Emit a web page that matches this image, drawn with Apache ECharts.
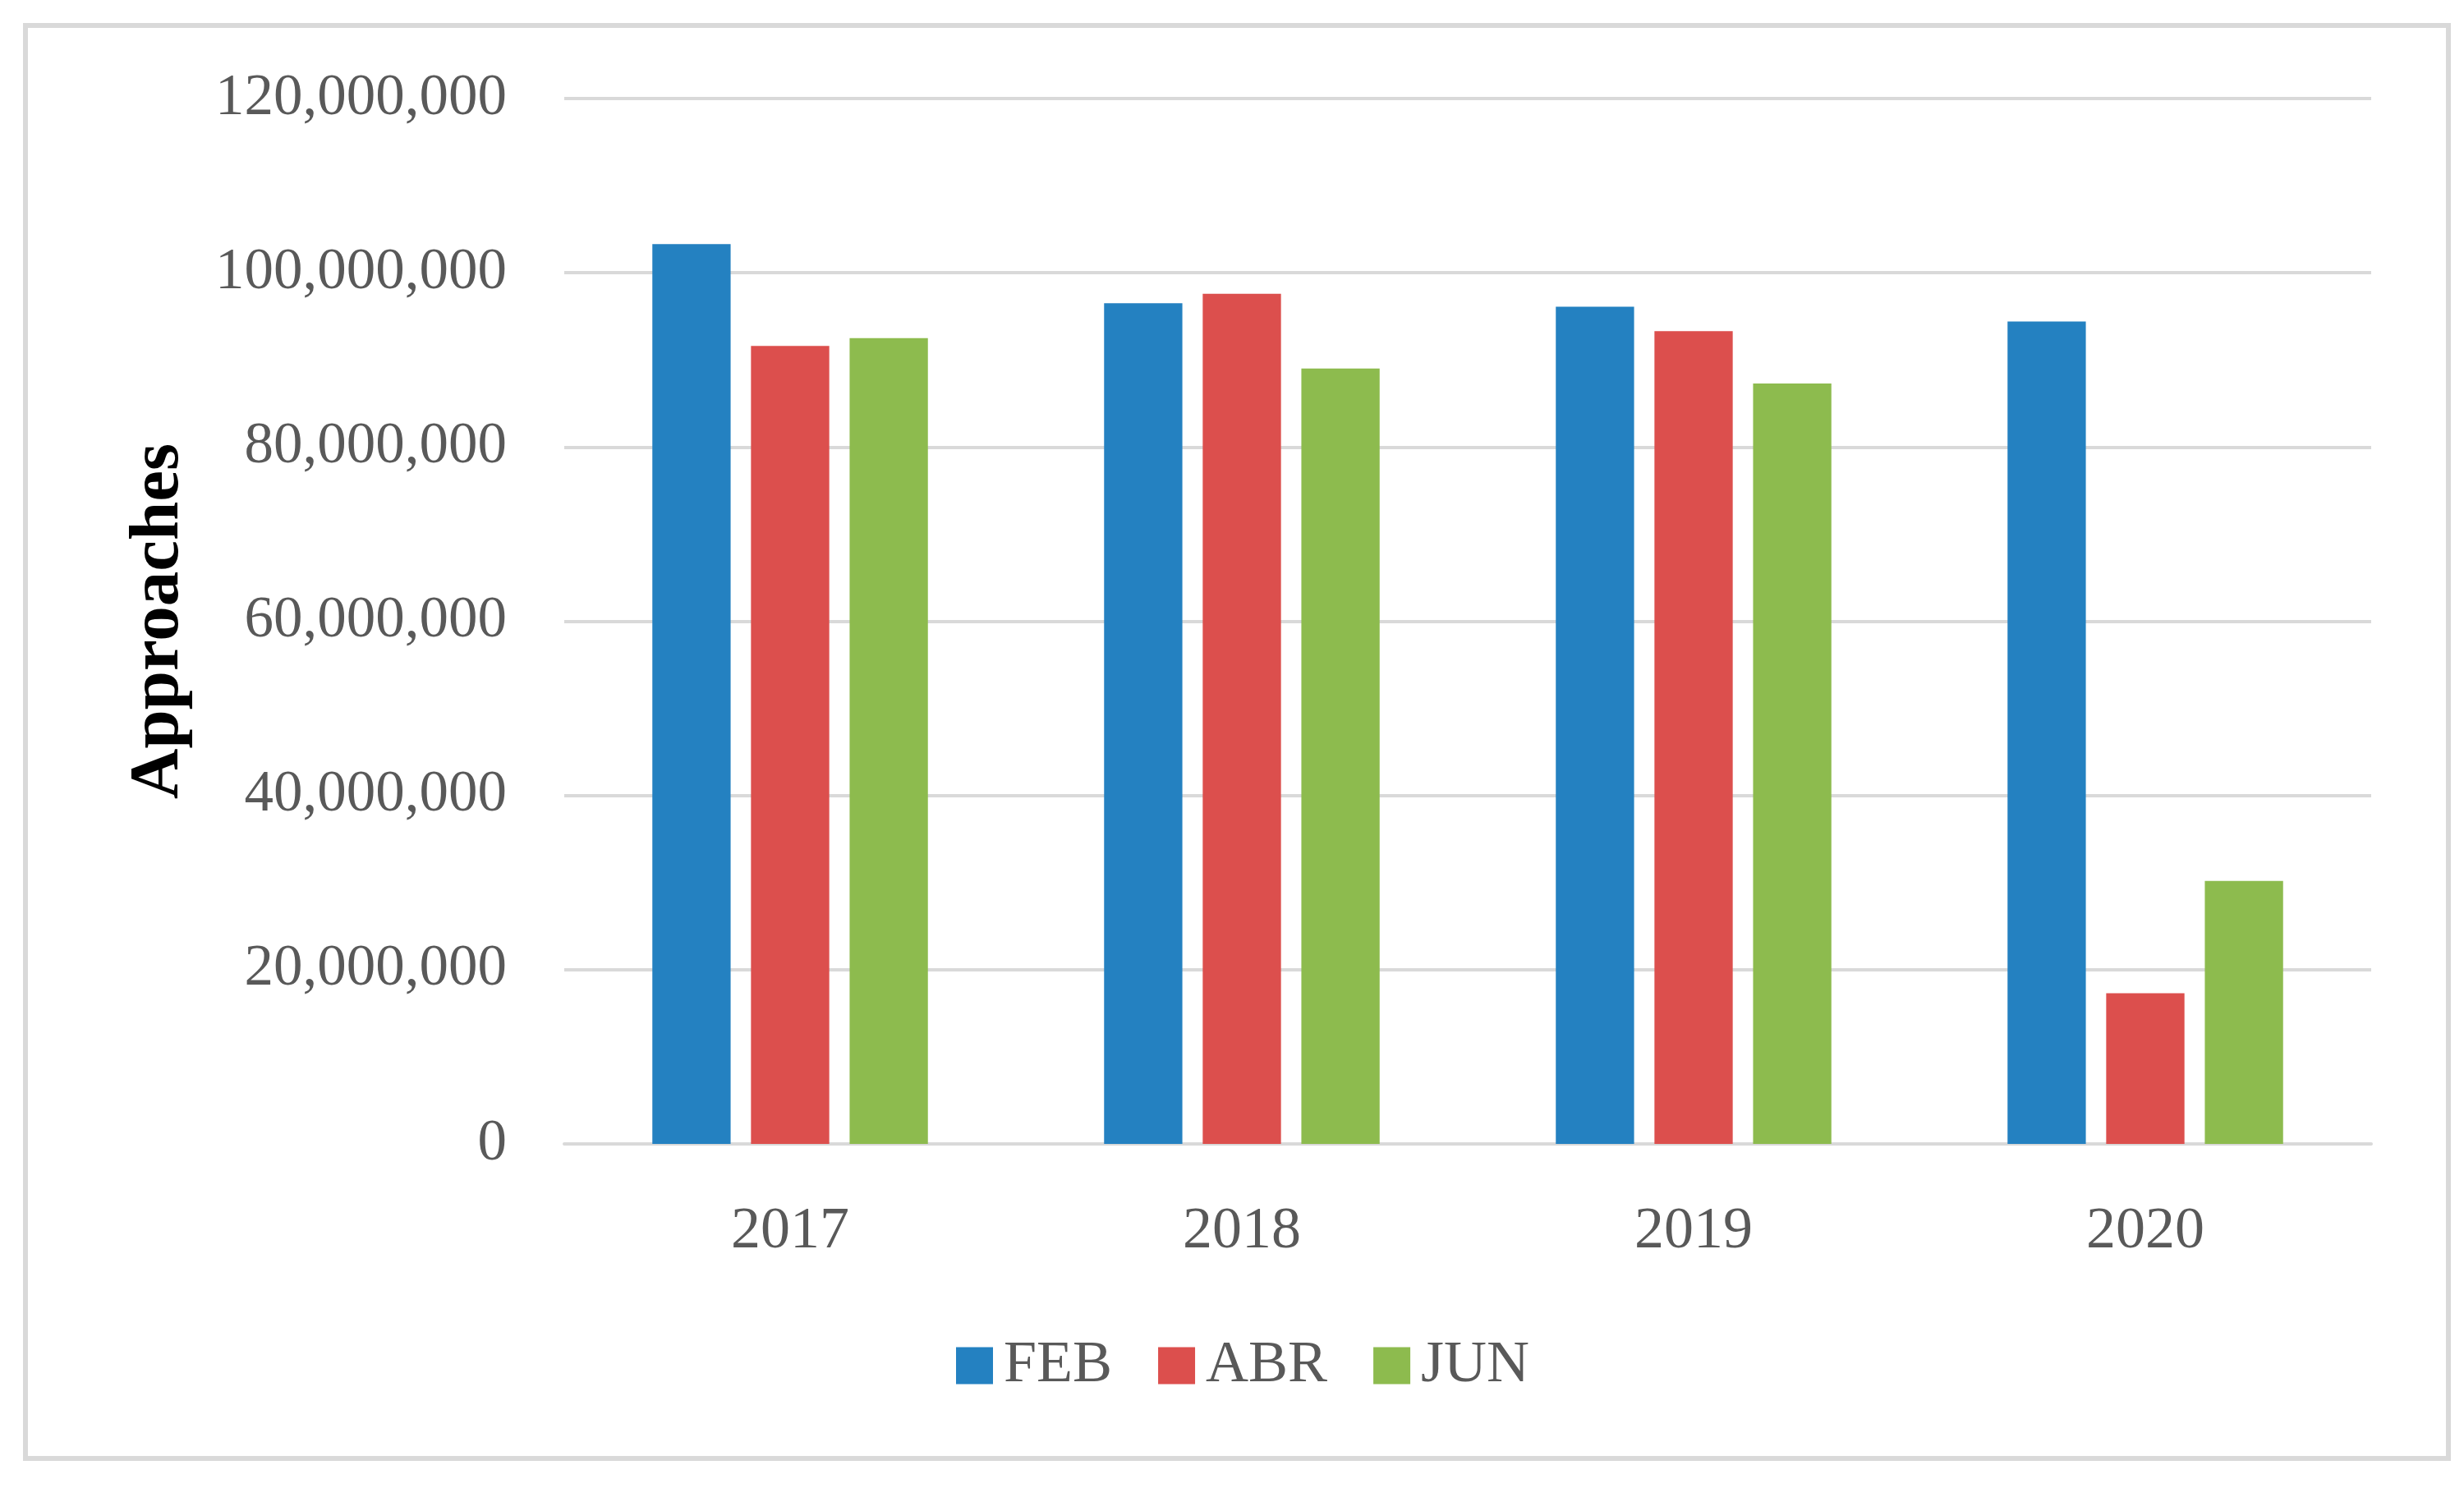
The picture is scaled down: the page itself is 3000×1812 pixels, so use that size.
<!DOCTYPE html>
<html>
<head>
<meta charset="utf-8">
<script src="https://cdn.jsdelivr.net/npm/echarts@6/dist/echarts.min.js"></script>
<style>
html,body{margin:0;padding:0;background:#fff;}
#chart{width:3000px;height:1812px;}
</style>
</head>
<body>
<div id="chart"></div>
<script>
const categories = ['2017', '2018', '2019', '2020'];
const seriesNames = ['FEB', 'ABR', 'JUN'];
const feb = [103300000, 96500000, 96100000, 94400000];
const abr = [91600000, 97600000, 93300000, 17300000];
const jun = [92500000, 89000000, 87300000, 30200000];
const yTicks = { min: 0, max: 120000000, interval: 20000000 };
const axisTitle = 'Approaches';

const colors = ['#2481C1', '#DC4F4D', '#8DBB4E'];
const font = '"Liberation Serif", "DejaVu Serif", serif';

const chart = echarts.init(document.getElementById('chart'), null, { renderer: 'canvas' });
const values = [feb, abr, jun];
chart.setOption({
  animation: false,
  backgroundColor: '#ffffff',
  color: colors,
  graphic: [{
    type: 'rect',
    shape: { x: 31, y: 31, width: 2950, height: 1745 },
    style: { fill: 'none', stroke: '#d9d9d9', lineWidth: 6 },
    silent: true
  }],
  grid: { left: 687, right: 113, top: 120, bottom: 419 },
  legend: {
    data: seriesNames,
    left: 1159,
    top: 1622,
    itemWidth: 45,
    itemHeight: 45,
    itemGap: 56,
    icon: 'rect',
    textStyle: { fontFamily: font, fontSize: 72, color: '#595959', padding: [0, 0, 0, 8] }
  },
  xAxis: {
    type: 'category',
    data: categories,
    axisTick: { show: false },
    axisLine: { lineStyle: { color: '#d9d9d9', width: 4 } },
    axisLabel: { fontFamily: font, fontSize: 72, color: '#595959', margin: 71 }
  },
  yAxis: {
    type: 'value',
    min: yTicks.min,
    max: yTicks.max,
    interval: yTicks.interval,
    name: axisTitle,
    nameLocation: 'middle',
    nameRotate: 90,
    nameGap: 450,
    nameTextStyle: { fontFamily: font, fontSize: 85, fontWeight: 'bold', color: '#000000' },
    axisLine: { show: false },
    axisTick: { show: false },
    splitLine: { lineStyle: { color: '#d9d9d9', width: 4 } },
    axisLabel: {
      fontFamily: font, fontSize: 71, color: '#595959', margin: 70,
      formatter: v => v.toLocaleString('en-US')
    }
  },
  series: seriesNames.map((n, i) => ({
    name: n,
    type: 'bar',
    data: values[i],
    barGap: '26%',
    barCategoryGap: '39%'
  }))
});
</script>
</body>
</html>
